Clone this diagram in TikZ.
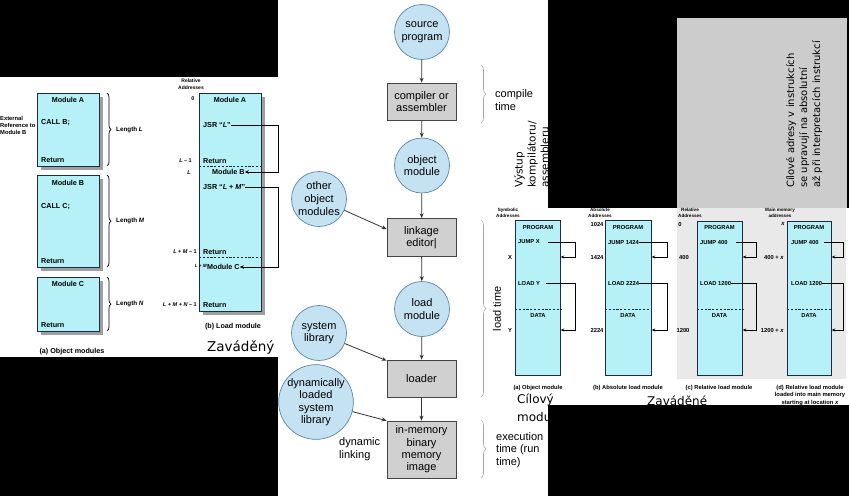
\documentclass[tikz,border=0pt]{standalone}
\usepackage{fontspec}
\setmainfont{Liberation Sans}
\newfontfamily\czfont{DejaVu Sans}
\usetikzlibrary{arrows.meta,decorations.pathreplacing,shadows,calc}
\newcommand\fsz[2]{\fontsize{#1}{#2}\selectfont}
\definecolor{cyanfill}{HTML}{B6F1F7}
\definecolor{circfill}{HTML}{C5E2F3}
\definecolor{circdraw}{HTML}{5A86A6}
\definecolor{boxgrey}{HTML}{D0D0D0}
\definecolor{boxdraw}{HTML}{444444}
\definecolor{navy}{HTML}{1C2A44}
\definecolor{panelgrey}{HTML}{E9E9E9}
\definecolor{topgrey}{HTML}{CCCCCC}
\definecolor{arrcol}{HTML}{333333}
\begin{document}
\begin{tikzpicture}[x=1pt,y=-1pt,
  circ/.style={circle, draw=circdraw, line width=0.7pt, fill=circfill, minimum size=55pt, inner sep=0pt, align=center, font=\fsz{11}{12.5}},
  gbox/.style={rectangle, draw=boxdraw, line width=0.7pt, fill=boxgrey, minimum width=69pt, minimum height=37pt, inner sep=0pt, align=center, font=\fsz{11}{12.5}},
  marr/.style={draw=arrcol, line width=0.8pt, -{Stealth[length=5pt,width=4pt]}},
  brc/.style={decorate, decoration={brace, amplitude=5pt}, draw=gray!70, line width=0.6pt},
  lbrc/.style={decorate, decoration={brace, amplitude=4pt}, draw=black, line width=0.7pt},
  mtxt/.style={inner sep=0pt, align=left, font=\fsz{11}{12.8}},
  modbox/.style={rectangle, anchor=north west, draw=navy, line width=0.8pt, fill=cyanfill, minimum width=62pt, inner sep=0pt,
     drop shadow={shadow xshift=4pt, shadow yshift=-4pt, fill=gray!75, opacity=1}},
  lt/.style={inner sep=0pt, font=\bfseries\fsz{7.2}{8}},
  ltiny/.style={inner sep=0pt, font=\bfseries\fsz{5.5}{6.5}},
  larr/.style={draw=black, line width=0.9pt, -{Stealth[length=4pt,width=3.5pt]}},
  dsh/.style={draw=navy, line width=0.7pt, dash pattern=on 2.2pt off 1.6pt},
  rbox/.style={rectangle, anchor=north west, draw=navy, line width=0.7pt, fill=cyanfill, minimum height=155pt, inner sep=0pt},
  rt/.style={inner sep=0pt, font=\bfseries\fsz{5.8}{7}},
  rtiny/.style={inner sep=0pt, align=center, font=\bfseries\fsz{4.6}{6}},
  rarr/.style={draw=black, line width=0.7pt, -{Stealth[length=3.5pt,width=3pt]}},
  czt/.style={inner sep=0pt, font=\czfont\fsz{12}{15}}
]
\useasboundingbox (0,0) rectangle (849,496);
% background regions
\fill[black] (0,0) rectangle (849,496);
\fill[white] (0,77) rectangle (278,357);
\fill[white] (278,0) rectangle (548,496);
\fill[white] (548,208) rectangle (849,405);
\fill[topgrey] (677,18) rectangle (847,208);
\fill[panelgrey] (677,208) rectangle (846,379);

% ---------------- left panel (a) object modules
\node[modbox, minimum height=73pt] (ma) at (37,93) {};
\node[lt] (mat) at (68,100) {Module A};
\node[lt, anchor=west] (mac) at (41,123) {CALL B;};
\node[lt, anchor=west] (mar) at (41,160) {Return};
\node[inner sep=0pt, anchor=west, align=left, font=\bfseries\fsz{5.8}{7}] (ext) at (0,125) {External\\Reference to\\Module B};
\draw[lbrc] (107,93) -- (107,166);
\node[lt, anchor=west, font=\bfseries\fsz{6.3}{7}] (lenl) at (116,130) {Length \textit{L}};

\node[modbox, minimum height=92pt] (mbx) at (37,175) {};
\node[lt] (mbt) at (68,183) {Module B};
\node[lt, anchor=west] (mbc) at (41,207) {CALL C;};
\node[lt, anchor=west] (mbr) at (41,261) {Return};
\draw[lbrc] (107,175) -- (107,267);
\node[lt, anchor=west, font=\bfseries\fsz{6.3}{7}] (lenm) at (116,221) {Length \textit{M}};

\node[modbox, minimum height=54pt] (mcx) at (37,277) {};
\node[lt] (mct) at (68,284) {Module C};
\node[lt, anchor=west] (mcr) at (41,325) {Return};
\draw[lbrc] (107,277) -- (107,331);
\node[lt, anchor=west, font=\bfseries\fsz{6.3}{7}] (lenn) at (116,304) {Length \textit{N}};
\node[lt] (capa) at (72,352) {(a) Object modules};

% ---------------- left panel (b) load module
\coordinate (rx) at (278,0);
\node[inner sep=0pt, align=center, font=\bfseries\fsz{5}{7.5}] (reladd) at (191,84) {Relative\\Addresses};
\node[modbox, minimum height=218pt] (lm) at (199,93) {};
\node[ltiny] (a0) at (193,99) {0};
\node[lt] (lma) at (230,100) {Module A};
\node[lt, anchor=west] (j1) at (203,125) {JSR “\textit{L}”};
\node[ltiny, anchor=east] (al1) at (192,161) {\textit{L} – 1};
\node[lt, anchor=west] (r1) at (203,161) {Return};
\draw[dsh] (lm.west |- 0,166) -- (lm.east |- 0,166);
\node[ltiny] (al) at (189,173) {\textit{L}};
\node[lt, anchor=west] (lmb) at (212,172) {Module B};
\draw[larr] (j1.east) -- (j1 -| rx) |- (lmb.east);
\node[lt, anchor=west] (j2) at (203,187) {JSR “\textit{L} + \textit{M}”};
\node[ltiny, anchor=east] (alm1) at (197,252) {\textit{L} + \textit{M} – 1};
\node[lt, anchor=west] (r2) at (203,252) {Return};
\draw[dsh] (lm.west |- 0,257) -- (lm.east |- 0,257);
\node[inner sep=0pt, anchor=east, font=\bfseries\fsz{4.6}{5}] (alm) at (207,266) {\textit{L} + \textit{M}};
\node[lt, anchor=west] (lmc) at (207,267) {Module C};
\draw[larr] (j2.east) -- (j2 -| rx) |- (lmc.east);
\node[ltiny, anchor=east] (almn) at (197,305) {\textit{L} + \textit{M} + \textit{N} – 1};
\node[lt, anchor=west] (r3) at (203,305) {Return};
\node[lt] (capb) at (233,327) {(b) Load module};
\node[inner sep=0pt, anchor=west, font=\czfont\fsz{13.5}{16}] (zav1) at (207,347) {Zaváděný};

% ---------------- middle flow
\node[circ] (src) at (422,32) {source\\program};
\node[gbox] (comp) at (421.5,101.5) {compiler or\\assembler};
\node[circ] (obj) at (422,165.5) {object\\module};
\node[circ, font=\fsz{11}{13}] (oth) at (319,199) {other\\object\\modules};
\node[gbox, minimum height=38pt] (link) at (421.5,237.5) {linkage\\editor|};
\node[circ] (load) at (422,309) {load\\module};
\node[circ] (sys) at (319,333) {system\\library};
\node[gbox] (ldr) at (421.5,378.5) {loader};
\node[circ, minimum size=60pt] (dyn) at (316,402) {dynamically\\loaded\\system\\library};
\node[gbox, minimum height=57pt, font=\fsz{11}{12.3}] (mem) at (421.5,449.5) {in-memory\\binary\\memory\\image};

\draw[marr] (src) -- (comp);
\draw[marr] (comp) -- (obj);
\draw[marr] (obj) -- (link);
\draw[marr] (link) -- (load);
\draw[marr] (load) -- (ldr);
\draw[marr] (ldr) -- (mem);
\draw[marr] (oth) -- ([yshift=-11pt]link.north west);
\draw[marr] (sys) -- ([yshift=-1pt]ldr.north west);
\draw[marr] (dyn) -- (mem.north west);

\draw[brc] (481,65) -- (481,123);
\node[mtxt, anchor=west] (ct) at (495,100) {compile\\time};
\draw[brc] (481,220) -- (481,397);
\node[mtxt, rotate=90] (ltm) at (497,309) {load time};
\draw[brc] (481,420) -- (481,478);
\node[mtxt, anchor=west, font=\fsz{11}{12.3}] (et) at (496,450) {execution\\time (run\\time)};
\node[mtxt, anchor=west] (dl) at (339,449.5) {dynamic\\linking};
\node[inner sep=0pt, rotate=90, anchor=north west, align=left, font=\czfont\fsz{10.5}{13}] (vy) at (514,188) {Výstup\\kompilátoru/\\assembleru};

% ---------------- top right grey note
\node[inner sep=0pt, rotate=90, anchor=north west, align=left, font=\czfont\fsz{10}{13}] (note) at (786,188) {Cílové adresy v instrukcích\\se upravují na absolutní\\až při interpretacích instrukcí};

% ---------------- right panel
\coordinate (ca) at (575,0);
\coordinate (cb) at (667,0);
\coordinate (cc) at (756,0);
\coordinate (cd) at (843,0);

% (a)
\node[rtiny] (syma) at (508,213) {Symbolic\\Addresses};
\node[rbox, minimum width=45pt] (pa) at (515,220) {};
\node[rt] (pga) at (538,227) {PROGRAM};
\node[rt, anchor=west] (ja) at (518,242) {JUMP X};
\node[rt, anchor=west] (lda) at (518,283) {LOAD Y};
\node[rt] (xa) at (510,257) {X};
\node[rt] (ya) at (510,330) {Y};
\draw[dsh] (pa.west |- 0,309) -- (pa.east |- 0,309);
\node[rt] (da) at (538,315) {DATA};
\draw[rarr] ([xshift=8pt]ja.east) -- (ja -| ca) |- (pa.east |- xa);
\draw[rarr] ([xshift=6pt]lda.east) -- (lda -| ca) |- (pa.east |- ya);
\node[rt] (capra) at (538,388) {(a) Object module};

% (b)
\node[rtiny] (absa) at (600,213) {Absolute\\Addresses};
\node[rbox, minimum width=46pt] (pb) at (605,220) {};
\node[rt] (pgb) at (628,227) {PROGRAM};
\node[rt, anchor=west] (jb) at (608,242) {JUMP 1424};
\node[rt, anchor=west] (ldb) at (608,283) {LOAD 2224};
\node[rt] (b1024) at (597,224) {1024};
\node[rt] (b1424) at (597,257) {1424};
\node[rt] (b2224) at (597,330) {2224};
\draw[dsh] (pb.west |- 0,309) -- (pb.east |- 0,309);
\node[rt] (db) at (628,315) {DATA};
\draw[rarr] (jb.east) -- (jb -| cb) |- (pb.east |- b1424);
\draw[rarr] (ldb.east) -- (ldb -| cb) |- (pb.east |- b2224);
\node[rt] (caprb) at (628,388) {(b) Absolute load module};

% (c)
\node[rtiny] (rela) at (690,213) {Relative\\Addresses};
\node[rbox, minimum width=45pt, minimum height=154pt] (pc) at (697,221) {};
\node[rt] (pgc) at (719.5,227) {PROGRAM};
\node[rt, anchor=west] (jc) at (700,242) {JUMP 400};
\node[rt, anchor=west] (ldc) at (700,283) {LOAD 1200};
\node[rt] (c0) at (680,224) {0};
\node[rt] (c400) at (684,257) {400};
\node[rt] (c1200) at (683,330) {1200};
\draw[dsh] (pc.west |- 0,309) -- (pc.east |- 0,309);
\node[rt] (dc) at (719.5,315) {DATA};
\draw[rarr] ([xshift=8pt]jc.east) -- (jc -| cc) |- (pc.east |- c400);
\draw[rarr] (ldc.east) -- (ldc -| cc) |- (pc.east |- c1200);
\node[rt] (caprc) at (719,388) {(c) Relative load module};

% (d)
\node[rtiny] (mma) at (780,213) {Main memory\\addresses};
\node[rbox, minimum width=44pt, minimum height=154pt] (pd) at (787,221) {};
\node[rt] (pgd) at (809,227) {PROGRAM};
\node[rt, anchor=west] (jd) at (791,242) {JUMP 400};
\node[rt, anchor=west] (ldd) at (791,283) {LOAD 1200};
\node[rt] (dx) at (783,224) {\textit{x}};
\node[rt, anchor=east] (d400) at (784,257) {400 + \textit{x}};
\node[rt, anchor=east] (d1200) at (784,330) {1200 + \textit{x}};
\draw[dsh] (pd.west |- 0,309) -- (pd.east |- 0,309);
\node[rt] (dd) at (809,315) {DATA};
\draw[rarr] ([xshift=5pt]jd.east) -- (jd -| cd) |- (pd.east |- d400);
\draw[rarr] (ldd.east) -- (ldd -| cd) |- (pd.east |- d1200);
\node[rt, align=center, font=\bfseries\fsz{5.8}{7.5}] (caprd) at (810,395.5) {(d) Relative load module\\loaded into main memory\\starting at location \textit{x}};

% Czech overlay labels
\node[czt, anchor=west] (cil1) at (517,400) {Cílový};
\node[czt, anchor=west] (cil2) at (517,417) {modu};
\node[czt, anchor=west] (zav2) at (647,401) {Zaváděné};

% black overlays that cut the texts
\fill[black] (548,0) rectangle (677,208);
\fill[black] (548,406) rectangle (849,496);
\end{tikzpicture}
\end{document}
